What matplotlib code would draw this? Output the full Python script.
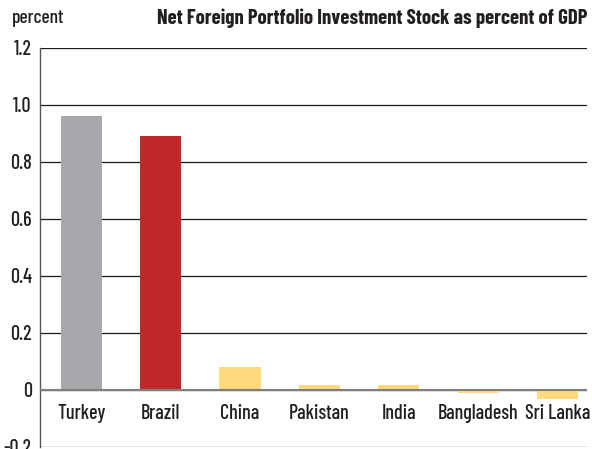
import matplotlib
matplotlib.use("Agg")
import matplotlib.pyplot as plt

plt.rcParams['font.family'] = ['Barlow Condensed', 'DejaVu Sans']

categories = ["Turkey", "Brazil", "China", "Pakistan", "India", "Bangladesh", "Sri Lanka"]
values = [0.961, 0.891, 0.081, 0.018, 0.018, -0.010, -0.031]
colors = ["#A7A8AB", "#C0292C", "#FFD97C", "#FFD97C", "#FFD97C", "#FFD97C", "#FFD97C"]
yticks = [-0.2, 0.0, 0.2, 0.4, 0.6, 0.8, 1.0, 1.2]
ytick_labels = ["-0.2", "0", "0.2", "0.4", "0.6", "0.8", "1.0", "1.2"]
title = "Net Foreign Portfolio Investment Stock as percent of GDP"
unit = "percent"

fig = plt.figure(figsize=(5.92, 4.49), dpi=100)
ax = fig.add_axes([40/592, 2/449, 547/592, (447-47.7)/449])

x = list(range(len(categories)))
ax.bar(x, values, width=0.52, color=colors, zorder=2)
ax.axhline(0, color="#7f7f7f", lw=1.5, zorder=3)

ax.set_xlim(-0.52, 6.37)
ax.set_ylim(-0.2, 1.2)
ax.set_yticks(yticks)
ax.set_yticklabels(ytick_labels, fontsize=14.5, fontweight=500, color="#231f20")
ax.tick_params(axis='y', length=0, pad=6)
ax.set_xticks([])
ax.yaxis.grid(True, color="#1a1a1a", lw=0.9, zorder=0)
ax.set_axisbelow(True)
for s in ["top", "right", "bottom"]:
    ax.spines[s].set_visible(False)
ax.spines["left"].set_color("#555555")
ax.spines["left"].set_linewidth(1.0)

for xi, lab in zip(x, categories):
    ax.text(xi, -0.083, lab, ha="center", va="center", fontsize=14.5, fontweight=500,
            color="#231f20")

fig.text(587/592, 1 - 18/449, title, ha="right", va="center", fontsize=15,
         fontweight="bold", color="#231f20")
fig.text(12/592, 1 - 18/449, unit, ha="left", va="center", fontsize=14, fontweight=500,
         color="#231f20")

fig.savefig("out.png", dpi=100)
